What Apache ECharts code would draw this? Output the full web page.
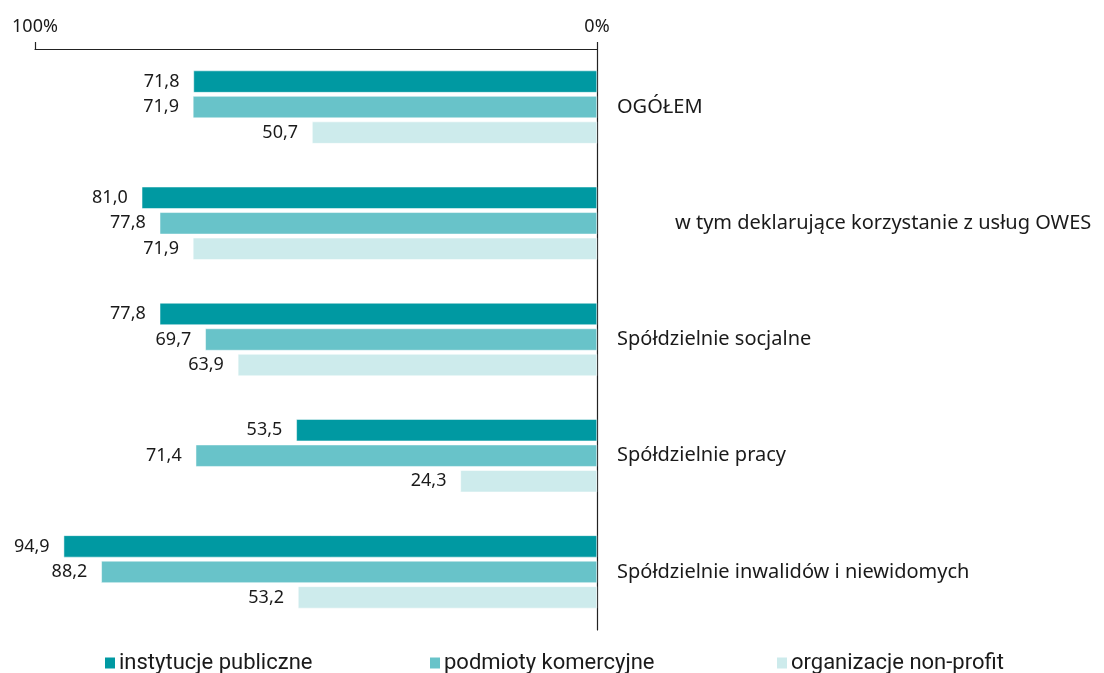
<!DOCTYPE html>
<html><head><meta charset="utf-8">
<script src="https://cdn.jsdelivr.net/npm/echarts@6/dist/echarts.min.js"></script>
<style>html,body{margin:0;padding:0;background:#fff}#c{width:1104px;height:673px}</style>
</head><body><div id="c"></div>
<script>
const categories = ['OGÓŁEM', 'w tym deklarujące korzystanie z usług OWES', 'Spółdzielnie socjalne', 'Spółdzielnie pracy', 'Spółdzielnie inwalidów i niewidomych'];
const seriesNames = ['instytucje publiczne', 'podmioty komercyjne', 'organizacje non-profit'];
const publiczne = [71.8, 81.0, 77.8, 53.5, 94.9];
const komercyjne = [71.9, 77.8, 69.7, 71.4, 88.2];
const nonprofit = [50.7, 71.9, 63.9, 24.3, 53.2];
const tickLabels = {0: '0%', 100: '100%'};
const colors = ['#0099a2', '#68c3c9', '#cdebec'];
const FONT = '"Noto Sans", sans-serif';
const LEGFONT = 'Roboto, "Noto Sans", sans-serif';

const chart = echarts.init(document.getElementById('c'));
const mk = (name, data, i) => ({
  name, type: 'bar', data,
  barWidth: 22, barGap: '16%',
  itemStyle: {color: colors[i], borderColor: '#fff', borderWidth: 0.5},
  label: {show: true, position: 'left', distance: 14, color: '#1a1a1a', fontSize: 18, fontFamily: FONT,
    formatter: p => p.value.toFixed(1).replace('.', ',')}
});
chart.setOption({
  animation: false,
  textStyle: {fontFamily: FONT},
  grid: {left: 35, right: 507, top: 49, bottom: 43, containLabel: false},
  xAxis: {
    type: 'value', inverse: true, position: 'top', min: 0, max: 100, interval: 100,
    axisLine: {show: true, lineStyle: {color: '#222', width: 1.2}},
    axisTick: {show: true, length: 7, lineStyle: {color: '#222', width: 1.2}},
    axisLabel: {color: '#1a1a1a', fontSize: 18, margin: 13, fontFamily: FONT, formatter: v => tickLabels[v]},
    splitLine: {show: false}
  },
  yAxis: {
    type: 'category', inverse: true, data: categories, position: 'right',
    axisLine: {show: true, onZero: false, lineStyle: {color: '#222', width: 1.2}},
    axisTick: {show: false},
    axisLabel: {color: '#1a1a1a', fontSize: 20, margin: 20, fontFamily: FONT,
      formatter: (v, i) => i === 1 ? '{ind|' + v + '}' : v,
      rich: {ind: {padding: [0, 0, 0, 58], fontSize: 20, color: '#1a1a1a', fontFamily: FONT}}}
  },
  legend: [0, 1, 2].map(i => ({
    data: [seriesNames[i]], left: [98, 423, 770][i], top: 647,
    icon: 'rect', itemWidth: 12, itemHeight: 13, itemGap: 0,
    textStyle: {fontSize: 22, color: '#1a1a1a', fontFamily: LEGFONT, padding: [0, 0, 0, -2]}
  })),
  series: [mk(seriesNames[0], publiczne, 0), mk(seriesNames[1], komercyjne, 1), mk(seriesNames[2], nonprofit, 2)]
});
</script></body></html>
